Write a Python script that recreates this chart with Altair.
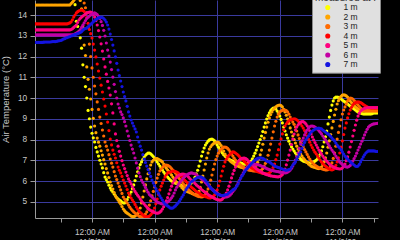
import altair as alt
import pandas as pd

# half-hourly readings, hours after 12:00 AM 11/4/09
HOURS = [2 + 0.5 * i for i in range(264)]

DEPTHS = ["1 m", "2 m", "3 m", "4 m", "5 m", "6 m", "7 m"]
COLORS = ["#ffff00", "#ffa500", "#ff6a00", "#ff0000", "#ff0080", "#c400a4", "#1414e0"]

T_1M = [
    15.0, 15.0, 15.0, 15.0, 15.0, 15.0, 15.0, 15.0, 15.0, 15.0, 15.0, 15.0, 15.0, 15.0,
    15.0, 15.0, 15.0, 15.0, 15.0, 15.0, 15.0, 15.0, 15.0, 15.0, 15.0, 15.0, 15.0, 15.0,
    15.15, 15.2, 15.2, 14.5, 13.7, 13.45, 13.2, 12.9, 12.4, 11.6,
    11.0, 10.55, 10.0, 9.4, 9.0, 8.6, 8.3, 8.08, 7.88, 7.62,
    7.4, 7.2, 7.0, 6.82, 6.63, 6.4, 6.19, 6.07, 5.95, 5.8,
    5.66, 5.56, 5.47, 5.37, 5.28, 5.2, 5.13, 5.08, 5.04, 4.98,
    4.94, 4.94, 4.99, 5.1, 5.23, 5.35, 5.47, 5.63, 5.81, 6.02,
    6.24, 6.44, 6.63, 6.79, 6.92, 7.05, 7.16, 7.24, 7.3, 7.34,
    7.35, 7.31, 7.25, 7.18, 7.11, 7.02, 6.92, 6.82, 6.72, 6.62,
    6.53, 6.43, 6.34, 6.26, 6.19, 6.12, 6.05, 6.0, 5.95, 5.92,
    5.9, 5.88, 5.86, 5.83, 5.81, 5.78, 5.76, 5.75, 5.76, 5.78,
    5.81, 5.85, 5.9, 5.96, 6.05, 6.18, 6.34, 6.52, 6.72, 6.96,
    7.2, 7.41, 7.59, 7.73, 7.83, 7.92, 7.98, 8.01, 8.02, 7.99,
    7.93, 7.84, 7.73, 7.63, 7.54, 7.44, 7.35, 7.27, 7.2, 7.15,
    7.11, 7.06, 7.01, 6.98, 6.96, 6.94, 6.92, 6.9, 6.87, 6.87,
    6.87, 6.85, 6.82, 6.81, 6.82, 6.84, 6.87, 6.9, 6.96, 7.07,
    7.2, 7.34, 7.49, 7.66, 7.83, 8.0, 8.17, 8.38, 8.6, 8.8,
    8.99, 9.15, 9.28, 9.39, 9.47, 9.51, 9.52, 9.47, 9.37, 9.26,
    9.13, 8.97, 8.8, 8.6, 8.41, 8.23, 8.07, 7.92, 7.78, 7.65,
    7.54, 7.44, 7.35, 7.27, 7.2, 7.13, 7.06, 7.0, 6.96, 6.94,
    6.92, 6.9, 6.87, 6.86, 6.87, 6.89, 6.92, 6.96, 7.01, 7.08,
    7.16, 7.29, 7.45, 7.65, 7.88, 8.13, 8.41, 8.75, 9.08, 9.4,
    9.66, 9.86, 10.0, 10.04, 10.05, 10.03, 10.0, 9.95, 9.9, 9.85,
    9.81, 9.76, 9.71, 9.66, 9.61, 9.56, 9.52, 9.47, 9.42, 9.37,
    9.33, 9.3, 9.28, 9.25, 9.23, 9.23, 9.23, 9.23, 9.23, 9.23,
    9.23, 9.25, 9.28, 9.28, 9.28, 9.28,
]
T_2M = [
    14.48, 14.48, 14.48, 14.48, 14.48, 14.48, 14.48, 14.48, 14.48, 14.48, 14.48, 14.48, 14.48, 14.48,
    14.48, 14.48, 14.48, 14.48, 14.48, 14.48, 14.48, 14.48, 14.48, 14.48, 14.48, 14.48, 14.48, 14.48,
    14.55, 14.62, 14.7, 14.78, 14.85, 14.88, 14.85, 14.7, 14.3, 13.4,
    12.55, 12.05, 11.5, 10.9, 10.42, 9.95, 9.45, 9.02, 8.65, 8.33,
    8.07, 7.87, 7.68, 7.46, 7.25, 7.03, 6.82, 6.6, 6.39, 6.17,
    5.95, 5.78, 5.61, 5.44, 5.28, 5.18, 5.08, 4.98, 4.89, 4.77,
    4.65, 4.57, 4.5, 4.45, 4.41, 4.36, 4.31, 4.29, 4.29, 4.31,
    4.36, 4.42, 4.5, 4.7, 4.94, 5.23, 5.52, 5.81, 6.1, 6.35,
    6.58, 6.77, 6.92, 7.0, 7.06, 7.08, 7.08, 7.05, 7.01, 6.97,
    6.92, 6.82, 6.72, 6.62, 6.53, 6.46, 6.39, 6.29, 6.19, 6.1,
    6.0, 5.93, 5.86, 5.81, 5.76, 5.68, 5.61, 5.56, 5.52, 5.49,
    5.47, 5.44, 5.42, 5.39, 5.37, 5.36, 5.35, 5.38, 5.5, 5.7,
    5.95, 6.24, 6.53, 6.82, 7.11, 7.35, 7.54, 7.65, 7.73, 7.79,
    7.83, 7.86, 7.88, 7.86, 7.8, 7.71, 7.59, 7.44, 7.3, 7.2,
    7.11, 7.03, 6.96, 6.91, 6.87, 6.82, 6.77, 6.74, 6.72, 6.69,
    6.67, 6.65, 6.63, 6.61, 6.6, 6.59, 6.58, 6.58, 6.58, 6.6,
    6.63, 6.69, 6.77, 6.9, 7.06, 7.26, 7.49, 7.77, 8.07, 8.34,
    8.6, 8.83, 9.04, 9.2, 9.33, 9.44, 9.52, 9.58, 9.62, 9.65,
    9.66, 9.63, 9.57, 9.46, 9.33, 9.17, 8.99, 8.78, 8.56, 8.36,
    8.17, 8.0, 7.83, 7.68, 7.54, 7.42, 7.3, 7.2, 7.11, 7.03,
    6.96, 6.89, 6.82, 6.77, 6.72, 6.69, 6.67, 6.65, 6.63, 6.61,
    6.6, 6.62, 6.67, 6.78, 6.92, 7.12, 7.35, 7.63, 7.93, 8.24,
    8.56, 8.87, 9.18, 9.46, 9.71, 9.87, 10.0, 10.08, 10.14, 10.15,
    10.14, 10.1, 10.05, 9.96, 9.86, 9.78, 9.71, 9.64, 9.57, 9.52,
    9.47, 9.43, 9.4, 9.38, 9.37, 9.36, 9.35, 9.35, 9.35, 9.35,
    9.35, 9.35, 9.35, 9.35, 9.35, 9.35,
]
T_3M = [
    14.85, 14.85, 14.85, 14.85, 14.85, 14.85, 14.85, 14.85, 14.85, 14.85, 14.85, 14.85, 14.85, 14.85, 14.85, 14.85,
    14.85, 14.85, 14.85, 14.85, 14.85, 14.85, 14.85, 14.85, 14.85, 14.85, 14.85, 14.85, 14.85, 14.85, 14.85, 14.85,
    15.0, 15.03, 15.05, 15.05, 15.0, 14.85, 14.58, 14.35, 14.1, 13.4,
    12.6, 12.0, 11.45, 11.0, 10.58, 10.2, 9.81, 9.45, 9.08, 8.77,
    8.46, 8.17, 7.88, 7.68, 7.49, 7.27, 7.06, 6.86, 6.67, 6.45,
    6.24, 6.07, 5.9, 5.73, 5.57, 5.4, 5.23, 5.13, 5.04, 4.94,
    4.84, 4.74, 4.65, 4.58, 4.51, 4.46, 4.41, 4.36, 4.31, 4.28,
    4.27, 4.29, 4.34, 4.41, 4.51, 4.66, 4.84, 5.05, 5.28, 5.5,
    5.71, 5.93, 6.14, 6.32, 6.48, 6.58, 6.65, 6.72, 6.77, 6.77,
    6.75, 6.72, 6.67, 6.6, 6.53, 6.46, 6.39, 6.29, 6.19, 6.12,
    6.05, 5.95, 5.86, 5.78, 5.71, 5.65, 5.59, 5.53, 5.47, 5.42,
    5.37, 5.33, 5.3, 5.27, 5.25, 5.24, 5.23, 5.24, 5.28, 5.36,
    5.47, 5.62, 5.81, 6.04, 6.29, 6.56, 6.82, 7.03, 7.2, 7.34,
    7.45, 7.53, 7.59, 7.63, 7.64, 7.62, 7.57, 7.5, 7.4, 7.3,
    7.2, 7.1, 7.01, 6.94, 6.87, 6.82, 6.77, 6.72, 6.67, 6.63,
    6.6, 6.56, 6.53, 6.52, 6.51, 6.5, 6.48, 6.48, 6.48, 6.48,
    6.48, 6.5, 6.53, 6.6, 6.72, 6.85, 7.01, 7.24, 7.49, 7.78,
    8.07, 8.37, 8.65, 8.88, 9.08, 9.22, 9.33, 9.38, 9.4, 9.42,
    9.42, 9.39, 9.33, 9.22, 9.08, 8.96, 8.84, 8.73, 8.6, 8.41,
    8.22, 8.05, 7.88, 7.76, 7.64, 7.52, 7.4, 7.28, 7.16, 7.06,
    6.96, 6.89, 6.82, 6.77, 6.72, 6.68, 6.65, 6.62, 6.6, 6.57,
    6.55, 6.54, 6.53, 6.55, 6.6, 6.71, 6.87, 7.09, 7.35, 7.68,
    8.02, 8.34, 8.65, 8.95, 9.23, 9.42, 9.57, 9.72, 9.86, 9.95,
    10.0, 9.99, 9.95, 9.88, 9.81, 9.74, 9.66, 9.59, 9.52, 9.47,
    9.42, 9.41, 9.4, 9.4, 9.4, 9.4, 9.4, 9.4, 9.4, 9.4,
    9.4, 9.4,
]
T_4M = [
    13.57, 13.57, 13.57, 13.57, 13.57, 13.57, 13.57, 13.57, 13.57, 13.57, 13.57, 13.57, 13.57,
    13.57, 13.57, 13.57, 13.57, 13.57, 13.57, 13.57, 13.57, 13.57, 13.57, 13.57, 13.57, 13.57,
    13.6, 13.62, 13.67, 13.77, 13.9, 14.0, 14.1, 14.16, 14.2, 14.23,
    14.24, 14.22, 14.17, 14.05, 13.88, 13.6, 13.3, 13.1, 12.89, 12.6,
    12.31, 11.98, 11.64, 11.3, 10.96, 10.62, 10.29, 9.95, 9.61, 9.23,
    8.84, 8.43, 8.02, 7.74, 7.49, 7.29, 7.11, 6.88, 6.67, 6.52,
    6.39, 6.22, 6.05, 5.9, 5.76, 5.59, 5.42, 5.3, 5.18, 5.08,
    4.99, 4.87, 4.75, 4.65, 4.55, 4.49, 4.43, 4.37, 4.31, 4.28,
    4.27, 4.28, 4.31, 4.37, 4.45, 4.56, 4.7, 4.9, 5.13, 5.35,
    5.57, 5.75, 5.9, 6.05, 6.19, 6.3, 6.39, 6.42, 6.43, 6.46,
    6.48, 6.48, 6.46, 6.43, 6.39, 6.33, 6.27, 6.2, 6.12, 6.05,
    5.98, 5.92, 5.86, 5.79, 5.71, 5.66, 5.61, 5.55, 5.49, 5.46,
    5.42, 5.38, 5.33, 5.3, 5.28, 5.25, 5.23, 5.2, 5.18, 5.19,
    5.23, 5.27, 5.33, 5.43, 5.57, 5.77, 6.0, 6.24, 6.48, 6.71,
    6.92, 7.05, 7.16, 7.24, 7.3, 7.36, 7.4, 7.39, 7.35, 7.3,
    7.25, 7.18, 7.11, 7.06, 7.01, 6.94, 6.87, 6.82, 6.77, 6.71,
    6.65, 6.61, 6.58, 6.53, 6.48, 6.45, 6.43, 6.41, 6.39, 6.37,
    6.36, 6.35, 6.34, 6.35, 6.39, 6.45, 6.53, 6.66, 6.82, 7.03,
    7.25, 7.51, 7.78, 8.03, 8.27, 8.47, 8.65, 8.76, 8.84, 8.9,
    8.94, 8.97, 8.99, 9.0, 8.99, 8.95, 8.89, 8.82, 8.75, 8.65,
    8.55, 8.43, 8.31, 8.17, 8.02, 7.87, 7.73, 7.61, 7.49, 7.39,
    7.3, 7.2, 7.11, 7.01, 6.92, 6.84, 6.77, 6.72, 6.67, 6.62,
    6.58, 6.55, 6.53, 6.56, 6.63, 6.75, 6.92, 7.12, 7.35, 7.63,
    7.93, 8.24, 8.55, 8.8, 9.04, 9.24, 9.42, 9.55, 9.66, 9.73,
    9.78, 9.8, 9.81, 9.8, 9.78, 9.74, 9.69, 9.65, 9.61, 9.57,
    9.54, 9.53, 9.52, 9.52, 9.52, 9.52, 9.52, 9.52,
]
T_5M = [
    13.28, 13.28, 13.28, 13.28, 13.28, 13.28, 13.28, 13.28, 13.28, 13.28, 13.28, 13.28, 13.28, 13.28,
    13.28, 13.28, 13.28, 13.28, 13.28, 13.28, 13.28, 13.28, 13.28, 13.28, 13.28, 13.28, 13.28, 13.28,
    13.3, 13.34, 13.4, 13.46, 13.52, 13.64, 13.76, 13.84, 13.9, 13.95,
    14.0, 14.05, 14.1, 14.12, 14.14, 14.14, 14.12, 14.03, 13.9, 13.73,
    13.52, 13.25, 12.94, 12.61, 12.26, 11.88, 11.5, 11.15, 10.8, 10.48,
    10.14, 9.72, 9.28, 8.75, 8.27, 7.95, 7.68, 7.43, 7.2, 6.98,
    6.77, 6.6, 6.43, 6.26, 6.1, 5.98, 5.86, 5.73, 5.61, 5.5,
    5.4, 5.31, 5.23, 5.13, 5.04, 4.96, 4.89, 4.82, 4.75, 4.68,
    4.62, 4.58, 4.55, 4.51, 4.48, 4.46, 4.45, 4.46, 4.5, 4.56,
    4.65, 4.76, 4.89, 5.04, 5.2, 5.38, 5.57, 5.75, 5.9, 6.02,
    6.12, 6.19, 6.24, 6.28, 6.31, 6.33, 6.33, 6.32, 6.29, 6.25,
    6.19, 6.12, 6.05, 6.0, 5.95, 5.88, 5.81, 5.76, 5.71, 5.65,
    5.59, 5.54, 5.49, 5.45, 5.4, 5.35, 5.3, 5.27, 5.23, 5.2,
    5.16, 5.13, 5.11, 5.09, 5.08, 5.09, 5.13, 5.2, 5.3, 5.42,
    5.57, 5.75, 5.95, 6.15, 6.34, 6.51, 6.67, 6.81, 6.94, 7.01,
    7.06, 7.09, 7.11, 7.1, 7.08, 7.03, 6.96, 6.9, 6.84, 6.78,
    6.72, 6.66, 6.6, 6.55, 6.51, 6.47, 6.43, 6.39, 6.36, 6.33,
    6.31, 6.29, 6.27, 6.25, 6.24, 6.23, 6.22, 6.21, 6.2, 6.2,
    6.22, 6.25, 6.31, 6.42, 6.58, 6.78, 7.01, 7.25, 7.49, 7.76,
    8.02, 8.26, 8.46, 8.6, 8.7, 8.78, 8.84, 8.86, 8.86, 8.82,
    8.75, 8.66, 8.55, 8.42, 8.27, 8.12, 7.98, 7.85, 7.73, 7.61,
    7.49, 7.39, 7.3, 7.2, 7.11, 7.03, 6.96, 6.89, 6.82, 6.77,
    6.72, 6.68, 6.65, 6.62, 6.6, 6.59, 6.58, 6.59, 6.63, 6.71,
    6.82, 6.98, 7.16, 7.39, 7.64, 7.9, 8.17, 8.44, 8.7, 8.93,
    9.13, 9.27, 9.37, 9.43, 9.47, 9.5, 9.52, 9.53, 9.54, 9.54,
    9.54, 9.54, 9.54, 9.54, 9.54, 9.54,
]
T_6M = [
    13.04, 13.04, 13.04, 13.04, 13.04, 13.04, 13.04, 13.04, 13.04, 13.04, 13.04, 13.04, 13.04, 13.04, 13.04,
    13.04, 13.04, 13.04, 13.04, 13.04, 13.04, 13.04, 13.04, 13.04, 13.04, 13.04, 13.04, 13.04, 13.04, 13.04,
    13.06, 13.09, 13.13, 13.16, 13.2, 13.3, 13.4, 13.51, 13.62, 13.73,
    13.83, 13.89, 13.95, 14.0, 14.05, 14.08, 14.1, 14.07, 14.02, 13.94,
    13.83, 13.68, 13.5, 13.26, 12.99, 12.65, 12.31, 12.02, 11.73, 11.37,
    11.01, 10.66, 10.31, 10.0, 9.71, 9.52, 9.33, 9.2, 9.04, 8.86,
    8.65, 8.41, 8.17, 7.95, 7.73, 7.54, 7.35, 7.11, 6.87, 6.62,
    6.39, 6.21, 6.05, 5.93, 5.81, 5.69, 5.57, 5.46, 5.35, 5.29,
    5.23, 5.17, 5.11, 5.05, 4.99, 4.96, 4.94, 4.91, 4.89, 4.9,
    4.92, 4.95, 4.99, 5.05, 5.11, 5.19, 5.28, 5.42, 5.57, 5.7,
    5.81, 5.9, 5.98, 6.06, 6.14, 6.21, 6.27, 6.31, 6.34, 6.37,
    6.39, 6.38, 6.36, 6.34, 6.31, 6.25, 6.19, 6.15, 6.1, 6.05,
    6.0, 5.93, 5.86, 5.8, 5.73, 5.67, 5.61, 5.56, 5.52, 5.47,
    5.42, 5.37, 5.33, 5.3, 5.28, 5.25, 5.23, 5.23, 5.25, 5.28,
    5.33, 5.4, 5.49, 5.57, 5.66, 5.78, 5.9, 6.02, 6.14, 6.27,
    6.39, 6.49, 6.58, 6.66, 6.72, 6.77, 6.8, 6.81, 6.82, 6.81,
    6.8, 6.79, 6.77, 6.75, 6.72, 6.7, 6.67, 6.63, 6.6, 6.57,
    6.55, 6.53, 6.51, 6.5, 6.48, 6.47, 6.46, 6.45, 6.43, 6.42,
    6.41, 6.4, 6.39, 6.4, 6.43, 6.47, 6.53, 6.61, 6.72, 6.86,
    7.01, 7.18, 7.35, 7.57, 7.78, 7.93, 8.07, 8.22, 8.36, 8.46,
    8.55, 8.61, 8.65, 8.65, 8.63, 8.6, 8.55, 8.5, 8.43, 8.35,
    8.27, 8.17, 8.07, 7.98, 7.88, 7.79, 7.69, 7.59, 7.49, 7.4,
    7.3, 7.2, 7.11, 7.01, 6.92, 6.86, 6.8, 6.75, 6.7, 6.68,
    6.67, 6.7, 6.75, 6.84, 6.96, 7.08, 7.2, 7.34, 7.49, 7.63,
    7.78, 7.92, 8.07, 8.22, 8.36, 8.49, 8.6, 8.66, 8.7, 8.73,
    8.75, 8.76, 8.77, 8.78,
]
T_7M = [
    12.68, 12.68, 12.68, 12.68, 12.68, 12.68, 12.68, 12.69, 12.7, 12.7,
    12.7, 12.7, 12.7, 12.71, 12.72, 12.72, 12.72, 12.73, 12.75, 12.76,
    12.77, 12.8, 12.84, 12.86, 12.89, 12.91, 12.94, 12.96, 12.99, 13.01,
    13.04, 13.06, 13.08, 13.1, 13.13, 13.16, 13.2, 13.27, 13.33, 13.35,
    13.37, 13.43, 13.49, 13.55, 13.61, 13.67, 13.73, 13.78, 13.83, 13.86,
    13.88, 13.89, 13.88, 13.83, 13.76, 13.66, 13.52, 13.32, 13.08, 12.82,
    12.55, 12.27, 11.98, 11.67, 11.35, 11.08, 10.82, 10.55, 10.29, 10.07,
    9.86, 9.6, 9.33, 9.13, 8.94, 8.79, 8.65, 8.51, 8.36, 8.12,
    7.88, 7.68, 7.49, 7.27, 7.06, 6.89, 6.72, 6.55, 6.39, 6.22,
    6.05, 5.9, 5.76, 5.64, 5.52, 5.4, 5.28, 5.18, 5.08, 4.98,
    4.89, 4.84, 4.8, 4.75, 4.7, 4.69, 4.7, 4.75, 4.8, 4.87,
    4.94, 5.03, 5.13, 5.23, 5.33, 5.45, 5.57, 5.67, 5.76, 5.86,
    5.95, 6.0, 6.05, 6.1, 6.14, 6.17, 6.19, 6.2, 6.19, 6.15,
    6.1, 6.03, 5.95, 5.86, 5.76, 5.68, 5.61, 5.54, 5.47, 5.42,
    5.37, 5.35, 5.33, 5.31, 5.3, 5.31, 5.33, 5.35, 5.37, 5.42,
    5.47, 5.52, 5.57, 5.61, 5.66, 5.75, 5.86, 6.0, 6.14, 6.24,
    6.34, 6.44, 6.53, 6.6, 6.67, 6.75, 6.82, 6.89, 6.96, 7.01,
    7.06, 7.09, 7.11, 7.12, 7.11, 7.09, 7.06, 7.01, 6.96, 6.94,
    6.92, 6.87, 6.82, 6.77, 6.72, 6.7, 6.67, 6.65, 6.63, 6.6,
    6.58, 6.55, 6.53, 6.52, 6.53, 6.55, 6.58, 6.67, 6.77, 6.84,
    6.92, 7.04, 7.16, 7.28, 7.4, 7.57, 7.73, 7.86, 7.98, 8.08,
    8.17, 8.27, 8.36, 8.41, 8.46, 8.5, 8.53, 8.54, 8.55, 8.53,
    8.51, 8.46, 8.41, 8.36, 8.31, 8.27, 8.22, 8.15, 8.07, 8.0,
    7.93, 7.83, 7.73, 7.66, 7.59, 7.5, 7.4, 7.3, 7.2, 7.13,
    7.06, 6.99, 6.92, 6.87, 6.82, 6.77, 6.72, 6.7, 6.72, 6.8,
    6.92, 7.04, 7.16, 7.26, 7.35, 7.41, 7.45, 7.45, 7.45, 7.45,
    7.45, 7.44, 7.42, 7.42,
]

Y_TICKS = [5, 6, 7, 8, 9, 10, 11, 12, 13, 14]
X_TICKS = [12, 24, 36, 48, 60, 72, 84, 96, 108, 120, 132]
DAY_TICKS = [24, 48, 72, 96, 120]
DAY_LABELS = ["11/5/09", "11/6/09", "11/7/09", "11/8/09", "11/9/09"]
TIME_LABEL = "12:00 AM"
Y_TITLE = "Air Temperature (°C)"
LEGEND_TITLE = "measured at :"

rows = []
for rank, (name, vals) in enumerate(zip(DEPTHS, [T_1M, T_2M, T_3M, T_4M, T_5M, T_6M, T_7M])):
    assert len(vals) == len(HOURS), (name, len(vals))
    for h, v in zip(HOURS, vals):
        rows.append({"hour": h, "temp": v, "depth": name, "rank": rank})
df = pd.DataFrame(rows)

label_expr = ""
for d, l in zip(DAY_TICKS, DAY_LABELS):
    label_expr += f"datum.value === {d} ? ['{TIME_LABEL}', '{l}'] : "
label_expr += "''"

GRID = "#3a3a9e"
AXIS = "#9a9a9a"
TEXT = "#c8c8c8"
FONT = "Liberation Sans"

chart = alt.Chart(df).mark_circle(size=10, opacity=1, clip=True).encode(
    x=alt.X(
        "hour:Q",
        scale=alt.Scale(domain=[2.147, 133.66], nice=False, zero=False),
        axis=alt.Axis(
            values=X_TICKS, labelExpr=label_expr, title=None, grid=True,
            gridColor=GRID, gridWidth=1,
            gridOpacity={"condition": {"test": "datum.value % 24 === 0", "value": 1}, "value": 0},
            domainColor=AXIS, tickColor=AXIS, tickSize=4,
            labelColor=TEXT, labelFont=FONT, labelFontSize=8.3, labelPadding=5.5,
            labelLineHeight=9.5, labelBaseline="top", labelAlign="center",
            labelFlush=False, labelOverlap=False,
        ),
    ),
    y=alt.Y(
        "temp:Q",
        scale=alt.Scale(domain=[4.217, 14.723], nice=False, zero=False),
        axis=alt.Axis(
            values=Y_TICKS, title=Y_TITLE, grid=True, gridColor=GRID, gridWidth=1,
            domainColor=AXIS, tickColor=AXIS, tickSize=5,
            labelColor=TEXT, labelFont=FONT, labelFontSize=8.3, labelPadding=3.3,
            titleColor=TEXT, titleFont=FONT, titleFontSize=9.5, titleFontWeight="normal",
            titleAngle=270, titleBaseline="alphabetic", titleAlign="center",
            titleX=-26.7, titleY=99,
        ),
    ),
    color=alt.Color(
        "depth:N",
        scale=alt.Scale(domain=DEPTHS, range=COLORS),
        legend=alt.Legend(
            orient="none", legendX=277, legendY=-10.3, direction="vertical",
            title=LEGEND_TITLE, titleFont=FONT, titleFontSize=10, titleFontWeight="normal",
            titleColor="#333333", titlePadding=0.5,
            labelFont=FONT, labelFontSize=8.5, labelColor="#222222",
            symbolType="circle", symbolSize=26, symbolStrokeWidth=0, symbolOpacity=1,
            fillColor="#e0e0e0", strokeColor="#8a8a8a", padding=3, rowPadding=0.5,
            symbolOffset=8.5, labelOffset=11.5,
        ),
    ),
    order=alt.Order("rank:Q"),
).properties(
    width=343, height=218,
    padding={"left": 35, "top": 0, "right": 22, "bottom": 22},
    autosize=alt.AutoSizeParams(type="none"),
).configure(background="#000000").configure_view(stroke=None)

chart.save("out.html", embed_options={"renderer": "svg", "actions": False})
